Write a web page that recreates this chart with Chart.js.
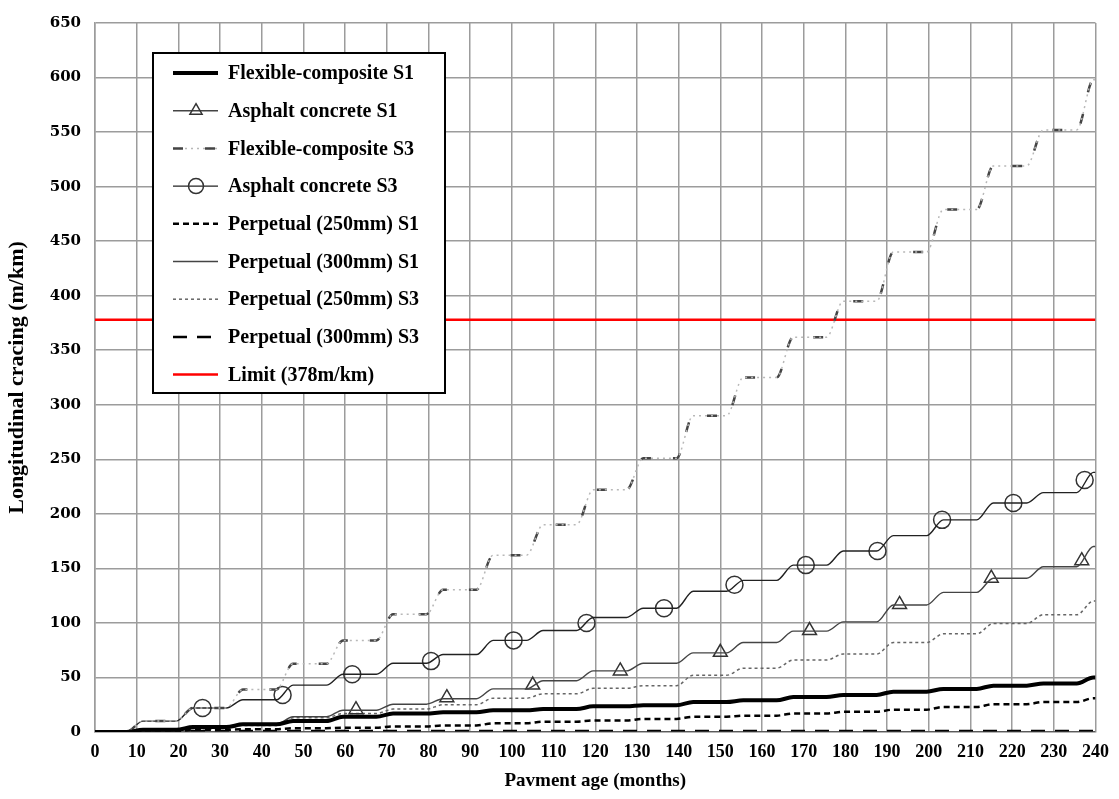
<!DOCTYPE html>
<html>
<head>
<meta charset="utf-8">
<script src="https://cdn.jsdelivr.net/npm/chart.js@4.4.1/dist/chart.umd.min.js"></script>
<style>
  html, body { margin: 0; padding: 0; background: #fff; }
  #wrap { width: 1119px; height: 799px; }
</style>
</head>
<body>
<div id="wrap"><canvas id="myChart" width="1119" height="799"></canvas></div>
<script>
// step points (months): flat from 12k+11.5 to 12k+19.5, rising in between
const months = [0, 7.5, 11.5, 19.5, 23.5, 31.5, 35.5, 43.5, 47.5, 55.5, 59.5, 67.5, 71.5, 79.5, 83.5, 91.5,
  95.5, 103.5, 107.5, 115.5, 119.5, 127.5, 131.5, 139.5, 143.5, 151.5, 155.5, 163.5, 167.5, 175.5,
  179.5, 187.5, 191.5, 199.5, 203.5, 211.5, 215.5, 223.5, 227.5, 235.5, 239.5, 240];

const fcS1 = [0, 0, 2, 2, 4.5, 4.5, 7, 7, 10, 10, 14, 14, 17, 17, 18, 18, 20, 20, 21, 21,
  23.5, 23.5, 24.5, 24.5, 27.5, 27.5, 29, 29, 32, 32, 34, 34, 37, 37, 39.5, 39.5, 42.5, 42.5, 44.5, 44.5, 50, 50];
const acS1 = [0, 0, 1, 1, 4, 4, 7, 7, 14, 14, 20, 20, 25.5, 25.5, 30.5, 30.5, 39.5, 39.5, 47, 47,
  56, 56, 63, 63, 72.5, 72.5, 82, 82, 92.5, 92.5, 101, 101, 116.5, 116.5, 128, 128, 141, 141, 151.5, 151.5, 170, 170];
const fcS3 = [0, 0, 10, 10, 22, 22, 39, 39, 62.5, 62.5, 84, 84, 108, 108, 130.5, 130.5, 162, 162, 190, 190,
  222, 222, 251, 251, 290, 290, 325, 325, 362, 362, 395, 395, 440, 440, 479, 479, 519, 519, 552, 552, 598, 598];
const acS3 = [0, 0, 10, 10, 22, 22, 29.5, 29.5, 43, 43, 53, 53, 63, 63, 71, 71, 84, 84, 93, 93,
  105, 105, 113.5, 113.5, 129, 129, 139, 139, 153, 153, 166, 166, 180, 180, 194.5, 194.5, 210, 210, 219.5, 219.5, 238, 238];
const p250S1 = [0, 0, 0.5, 0.5, 2, 2, 2.5, 2.5, 3.5, 3.5, 4, 4, 5, 5, 6, 6, 8, 8, 9.5, 9.5,
  10.5, 10.5, 12, 12, 14, 14, 15, 15, 17, 17, 18.5, 18.5, 20.5, 20.5, 23, 23, 25.5, 25.5, 27.5, 27.5, 31, 31];
const p300S1 = [0, 0, 0, 0, 0, 0, 0, 0, 0, 0, 0, 0, 0, 0, 0, 0, 0, 0, 0, 0,
  0, 0, 0, 0, 0, 0, 0, 0, 0, 0, 0, 0, 0, 0, 0, 0, 0, 0, 0, 0, 0, 0];
const p250S3 = [0, 0, 1, 1, 3, 3, 6, 6, 13, 13, 17, 17, 21, 21, 25, 25, 31, 31, 35, 35,
  40, 40, 42.5, 42.5, 52, 52, 58.5, 58.5, 66, 66, 71.5, 71.5, 82, 82, 90, 90, 99.5, 99.5, 107.5, 107.5, 120, 120];
const p300S3 = [0, 0, 0.5, 0.5, 1, 1, 1, 1, 1, 1, 1, 1, 1, 1, 1, 1, 1, 1, 1, 1,
  1, 1, 1, 1, 1, 1, 1, 1, 1, 1, 1, 1, 1, 1, 1, 1, 1, 1, 1, 1, 1, 1];
const limitMonths = [0, 240];
const limitVals = [378, 378];

// marker positions
const triMonths = [62.6, 84.4, 105, 126, 150, 171.4, 193, 215, 236.7];
const triVals = [20.5, 31.5, 43, 56, 73, 93, 117, 141, 157];
const circMonths = [25.8, 45, 61.7, 80.6, 100.4, 117.9, 136.5, 153.4, 170.5, 187.7, 203.2, 220.3, 237.4];
const circVals = [22, 34, 53, 65, 84, 100, 113.5, 135, 153, 166, 194.5, 210, 231];

const xTicks = { min: 0, max: 240, step: 10 };
const yTicks = { min: 0, max: 650, step: 50 };

function pts(xs, ys) { return xs.map((x, i) => ({ x: x, y: ys[i] })); }

function lineSet(label, group, vals, color, width, dash) {
  return {
    label: label, group: group, data: pts(months, vals),
    borderColor: color, borderWidth: width, borderDash: dash || [],
    pointRadius: 0, cubicInterpolationMode: 'monotone', fill: false
  };
}
function markSet(group, xs, ys, style) {
  return {
    label: '', group: group, data: pts(xs, ys), showLine: false,
    pointStyle: style, pointRadius: style === 'circle' ? 8.5 : 8,
    pointBorderColor: '#333', pointBackgroundColor: 'rgba(0,0,0,0)', pointBorderWidth: 1.5
  };
}

const datasets = [
  lineSet('Flexible-composite S1', 'fcS1', fcS1, '#000', 4),
  lineSet('Asphalt concrete S1', 'acS1', acS1, '#444', 1.4),
  markSet('acS1', triMonths, triVals, 'triangle'),
  lineSet('', 'fcS3', fcS3, '#b8b8b8', 1.5, [2, 4]),
  lineSet('Flexible-composite S3', 'fcS3', fcS3, '#444', 2.5, [10, 22]),
  lineSet('Asphalt concrete S3', 'acS3', acS3, '#222', 1.4),
  markSet('acS3', circMonths, circVals, 'circle'),
  lineSet('Perpetual (250mm) S1', 'p250S1', p250S1, '#000', 2.5, [6, 4]),
  lineSet('Perpetual (300mm) S1', 'p300S1', p300S1, '#444', 1.4),
  lineSet('Perpetual (250mm) S3', 'p250S3', p250S3, '#666', 1.5, [3, 3]),
  lineSet('Perpetual (300mm) S3', 'p300S3', p300S3, '#000', 2.5, [14, 10]),
  {
    label: 'Limit (378m/km)', group: 'limit', data: pts(limitMonths, limitVals),
    borderColor: '#ff0000', borderWidth: 2.5, pointRadius: 0, fill: false
  }
];

function drawMark(ctx, style, x, y, r) {
  ctx.beginPath();
  if (style === 'circle') {
    ctx.arc(x, y, r, 0, Math.PI * 2);
  } else {
    let a = 0;
    ctx.moveTo(x + Math.sin(a) * r, y - Math.cos(a) * r);
    a += Math.PI * 2 / 3;
    ctx.lineTo(x + Math.sin(a) * r, y - Math.cos(a) * r);
    a += Math.PI * 2 / 3;
    ctx.lineTo(x + Math.sin(a) * r, y - Math.cos(a) * r);
    ctx.closePath();
  }
  ctx.stroke();
}

const boxLegend = {
  id: 'boxLegend',
  afterDatasetsDraw(chart) {
    const ctx = chart.ctx;
    const x0 = 153, y0 = 53, w = 292, h = 340;
    ctx.save();
    ctx.fillStyle = '#fff';
    ctx.fillRect(x0, y0, w, h);
    ctx.lineWidth = 2;
    ctx.strokeStyle = '#000';
    ctx.strokeRect(x0, y0, w, h);
    const all = chart.data.datasets;
    all.filter(d => d.label).forEach((ds, i) => {
      const y = y0 + 20 + i * 37.7;
      all.filter(d => d.group === ds.group).forEach(d => {
        if (d.showLine === false) {
          ctx.setLineDash([]);
          ctx.lineWidth = d.pointBorderWidth;
          ctx.strokeStyle = d.pointBorderColor;
          drawMark(ctx, d.pointStyle, 196, y, d.pointRadius - 1);
        } else {
          ctx.setLineDash(d.borderDash || []);
          ctx.lineWidth = d.borderWidth;
          ctx.strokeStyle = d.borderColor;
          ctx.beginPath();
          ctx.moveTo(173, y);
          ctx.lineTo(218, y);
          ctx.stroke();
        }
      });
      ctx.setLineDash([]);
      ctx.fillStyle = '#000';
      ctx.font = 'bold 20px "Liberation Serif"';
      ctx.textBaseline = 'middle';
      ctx.textAlign = 'left';
      ctx.fillText(ds.label, 228, y + 1);
    });
    ctx.restore();
  }
};

const gridColor = '#9c9c9c';

var ctx = document.getElementById('myChart').getContext('2d');
var myChart = new Chart(ctx, {
  type: 'line',
  data: { datasets: datasets },
  options: {
    responsive: false,
    animation: false,
    layout: { padding: { top: 15, right: 20, left: 0, bottom: 0 } },
    plugins: { legend: { display: false }, tooltip: { enabled: false } },
    scales: {
      x: {
        type: 'linear',
        min: xTicks.min, max: xTicks.max,
        afterFit: function (s) { s.height = 67; },
        grid: { color: gridColor, lineWidth: 1.5, drawTicks: false },
        border: { color: gridColor, width: 1.5 },
        ticks: {
          stepSize: xTicks.step, padding: 10, color: '#000', maxRotation: 0,
          font: { family: 'Liberation Serif', size: 18, weight: 'bold' }
        },
        title: {
          display: true, text: 'Pavment age (months)', color: '#000', padding: 7,
          font: { family: 'Liberation Serif', size: 19, weight: 'bold' }
        }
      },
      y: {
        min: yTicks.min, max: yTicks.max,
        afterFit: function (s) { s.width = 95; },
        grid: { color: gridColor, lineWidth: 1.5, drawTicks: false },
        border: { color: gridColor, width: 1.5 },
        ticks: {
          stepSize: yTicks.step, padding: 14, color: '#000',
          font: { family: 'DejaVu Serif', size: 15, weight: 'bold' }
        },
        title: {
          display: true, text: 'Longitudinal cracing (m/km)', color: '#000', padding: 4,
          font: { family: 'Liberation Serif', size: 22, weight: 'bold' }
        }
      }
    }
  },
  plugins: [boxLegend]
});
</script>
</body>
</html>
